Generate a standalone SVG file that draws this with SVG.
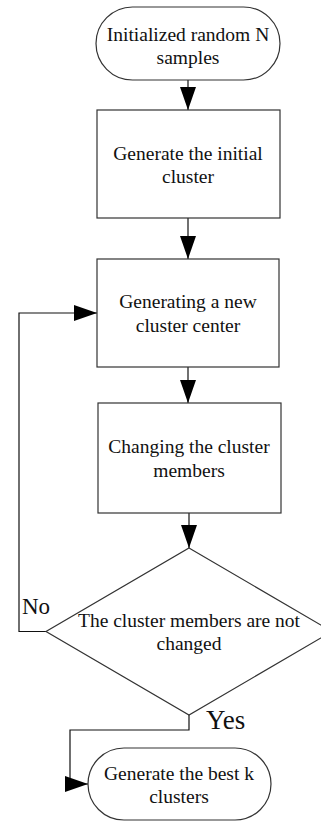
<svg xmlns="http://www.w3.org/2000/svg" width="321" height="821" viewBox="0 0 321 821">
  <style>
    .shape { fill: #ffffff; stroke: #333333; stroke-width: 1.2; }
    .edge { fill: none; stroke: #111111; stroke-width: 1.2; }
    .label { font-family: "Liberation Serif", "DejaVu Serif", serif; font-size: 19.5px; fill: #111111; text-anchor: middle; }
    .tag { font-family: "Liberation Serif", "DejaVu Serif", serif; fill: #111111; text-anchor: start; }
  </style>
  <defs>
    <marker id="head" viewBox="0 0 23 16" refX="23" refY="8" markerWidth="23" markerHeight="16" markerUnits="userSpaceOnUse" orient="auto">
      <path d="M0,0 L23,8 L0,16 z" fill="#000000"/>
    </marker>
  </defs>

  <rect width="321" height="821" fill="#ffffff"/>

  <!-- connectors -->
  <g id="connectors">
    <path class="edge" d="M188,80 V110" marker-end="url(#head)"/>
    <path class="edge" d="M188,218 V259" marker-end="url(#head)"/>
    <path class="edge" d="M188,367 V403" marker-end="url(#head)"/>
    <path class="edge" d="M189,513 V548" marker-end="url(#head)"/>
    <path class="edge" d="M46,631.5 H19 V313 H97" marker-end="url(#head)"/>
    <path class="edge" d="M189,715 V730 H70 V784 H88" marker-end="url(#head)"/>
  </g>

  <!-- start terminator -->
  <g id="start">
    <rect class="shape" x="96" y="7" width="184" height="73" rx="36.5" ry="36.5"/>
    <text class="label" x="188" y="41">Initialized random N</text>
    <text class="label" x="188" y="64">samples</text>
  </g>

  <!-- initial clustering -->
  <g id="initial-cluster">
    <rect class="shape" x="97" y="110" width="183" height="108"/>
    <text class="label" x="188" y="160">Generate the initial</text>
    <text class="label" x="188" y="183">cluster</text>
  </g>

  <!-- new centers -->
  <g id="new-center">
    <rect class="shape" x="97" y="259" width="182" height="108"/>
    <text class="label" x="188" y="308">Generating a new</text>
    <text class="label" x="188" y="332">cluster center</text>
  </g>

  <!-- reassign members -->
  <g id="change-members">
    <rect class="shape" x="98" y="403" width="183" height="110"/>
    <text class="label" x="189" y="453">Changing the cluster</text>
    <text class="label" x="189" y="477">members</text>
  </g>

  <!-- convergence test -->
  <g id="decision">
    <polygon class="shape" points="189,548 332,631.5 189,715 46,631.5"/>
    <text class="label" x="189" y="627">The cluster members are not</text>
    <text class="label" x="189" y="650">changed</text>
  </g>

  <!-- end terminator -->
  <g id="end">
    <rect class="shape" x="88" y="748" width="183" height="72" rx="36" ry="36"/>
    <text class="label" x="179" y="780">Generate the best k</text>
    <text class="label" x="179" y="803">clusters</text>
  </g>

  <!-- branch labels -->
  <g id="branch-labels">
    <text class="tag" font-size="23" x="22" y="614">No</text>
    <text class="tag" font-size="27" x="206" y="729">Yes</text>
  </g>
</svg>
